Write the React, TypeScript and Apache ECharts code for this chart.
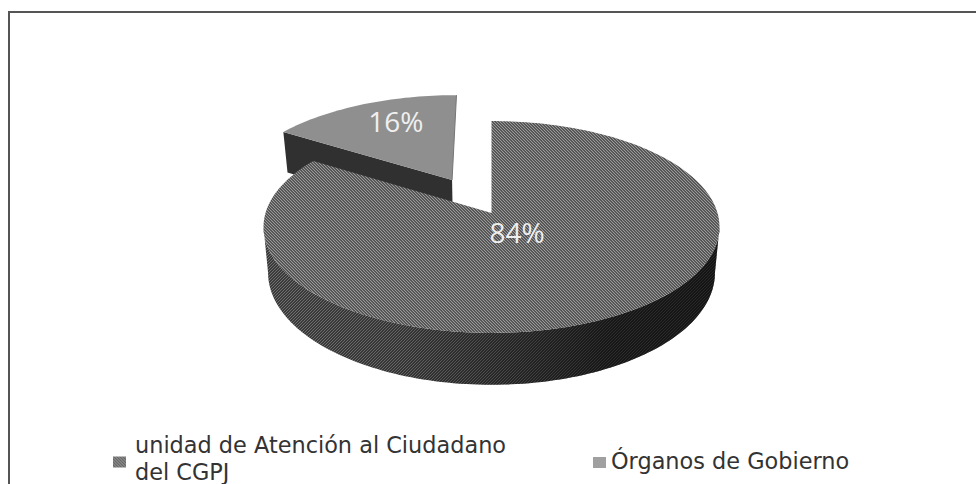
import React, { useEffect, useRef } from "react";
import * as echarts from "echarts";

const categories = ["unidad de Atención al Ciudadano\ndel CGPJ", "Órganos de Gobierno"];
const shareValues = [84, 16];
const shareLabels = ["84%", "16%"];

// Perspective of the tilted disc
const CX = 491.5, CY = 213, A = 226, B = 104.1, K = 0.132, DEPTH = 45, BOTTOM_SHRINK = 0.98;
const EXPLODE = 0.378;

function project(u: number, v: number, down = 0): [number, number] {
  const w = 1 + K * v;
  const s = down ? BOTTOM_SHRINK : 1;
  return [CX + (s * A * u) / w, CY - (B * v) / w + (down * DEPTH) / w];
}

function makePattern(size: number, colours: string[], backslash: boolean) {
  const c = document.createElement("canvas");
  c.width = size;
  c.height = size;
  const g = c.getContext("2d")!;
  for (let y = 0; y < size; y++)
    for (let x = 0; x < size; x++) {
      const k = backslash ? x - y + size : x + y;
      g.fillStyle = colours[k % colours.length];
      g.fillRect(x, y, 1, 1);
    }
  return { image: c, repeat: "repeat", imageWidth: size, imageHeight: size } as any;
}

function sliceRange(index: number) {
  const total = shareValues.reduce((a, b) => a + b, 0);
  const before = shareValues.slice(0, index).reduce((a, b) => a + b, 0);
  return [(before / total) * 2 * Math.PI, ((before + shareValues[index]) / total) * 2 * Math.PI];
}

function arc(a0: number, a1: number, ou: number, ov: number, down = 0) {
  const pts: [number, number][] = [];
  const n = Math.max(2, Math.ceil((a1 - a0) * 40));
  for (let i = 0; i <= n; i++) {
    const t = a0 + ((a1 - a0) * i) / n;
    pts.push(project(ou + Math.sin(t), ov + Math.cos(t), down));
  }
  return pts;
}

// a rect of 13x11 set lower inside a taller invisible box, so it sits below the text's centre
const loweredRect = (drop: number) => `path://M0 0M0 ${2 * drop}H13V${2 * drop + 11}H0Z`;

export default function App() {
  const ref = useRef<HTMLDivElement>(null);
  useEffect(() => {
    const chart = echarts.init(ref.current!, null, { renderer: "svg" });
    const mainTop = makePattern(3, ["#9a9a9a", "#606060", "#505050"], true);
    const mainSide = makePattern(3, ["#707070", "#3e3e3e", "#383838"], false);
    const legendMain = makePattern(3, ["#9c9c9c", "#707070", "#606060"], true);
    const sideShade = {
      type: "linear", x: 0, y: 0, x2: 1, y2: 0,
      colorStops: [
        { offset: 0.05, color: "rgba(0,0,0,0)" },
        { offset: 0.3, color: "rgba(0,0,0,0.1)" },
        { offset: 0.75, color: "rgba(0,0,0,0.6)" },
        { offset: 1, color: "rgba(0,0,0,0.65)" },
      ],
    };
    const smallTop = "#8f8f8f";
    const smallSide = "#303030";
    const font = '"Open Sans", sans-serif';
    const labelStyle = (text: string) => ({
      text, fill: "#efefef", font: `28px ${font}`, align: "center", verticalAlign: "middle",
    });

    const renderMain = () => {
      const [a0, a1] = sliceRange(0);
      const top = arc(a0, a1, 0, 0);
      const apex = project(0, 0);
      // the silhouette's widest points on the projected disc
      const front0 = Math.acos(-K), front1 = 2 * Math.PI - Math.acos(-K);
      const side = arc(front0, front1, 0, 0).concat(arc(front0, front1, 0, 0, 1).reverse());
      const lp = project(0.11, -0.18);
      return {
        type: "group",
        children: [
          { type: "polygon", shape: { points: side }, style: { fill: mainSide } },
          { type: "polygon", shape: { points: side }, style: { fill: sideShade } },
          { type: "polygon", shape: { points: [apex, ...top] }, style: { fill: mainTop } },
          { type: "text", x: lp[0], y: lp[1], style: labelStyle(shareLabels[0]) },
        ],
      };
    };

    const renderSmall = () => {
      const [a0, a1] = sliceRange(1);
      const mid = (a0 + a1) / 2;
      const ou = Math.sin(mid) * EXPLODE, ov = Math.cos(mid) * EXPLODE;
      const top = arc(a0, a1, ou, ov);
      const apex = project(ou, ov);
      const apexLow = project(ou, ov, 1);
      const edge = project(ou + Math.sin(a0), ov + Math.cos(a0));
      const edgeLow = project(ou + Math.sin(a0), ov + Math.cos(a0), 1);
      const far = top[top.length - 1];
      const lp = project(ou - 0.297, ov + 0.669);
      return {
        type: "group",
        children: [
          { type: "polygon", shape: { points: [apex, edge, edgeLow, apexLow] }, style: { fill: smallSide } },
          { type: "polygon", shape: { points: [apex, ...top] }, style: { fill: smallTop } },
          { type: "line", shape: { x1: apex[0], y1: apex[1], x2: far[0], y2: far[1] }, style: { stroke: "#767676", lineWidth: 1 } },
          { type: "text", x: lp[0], y: lp[1], style: labelStyle(shareLabels[1]) },
        ],
      };
    };

    const textBase = { fontFamily: '"DejaVu Sans"', fontSize: 22.4, color: "#333333", lineHeight: 27 };
    const legendBase = {
      orient: "horizontal",
      selectedMode: false,
      itemWidth: 13,
      itemGap: 0,
      padding: 5,
    };

    chart.setOption({
      animation: false,
      backgroundColor: "#ffffff",
      legend: [
        { ...legendBase, data: [{ name: categories[0], icon: loweredRect(4) }], itemHeight: 19, left: 108, top: 426, itemStyle: { color: legendMain }, textStyle: { ...textBase, padding: [0, 0, 0, 4] } },
        { ...legendBase, data: [{ name: categories[1], icon: loweredRect(2) }], itemHeight: 15, left: 588, top: 442, itemStyle: { color: "#a0a0a0" }, textStyle: { ...textBase, padding: 0 } },
      ],
      graphic: [
        { type: "rect", shape: { x: 9, y: 12, width: 1000, height: 500 }, style: { fill: "none", stroke: "#555555", lineWidth: 2 }, silent: true, z: -1 },
      ],
      series: [
        { type: "custom", name: categories[1], coordinateSystem: "none", data: [shareValues[1]], renderItem: renderSmall, itemStyle: { color: smallTop }, silent: true },
        { type: "custom", name: categories[0], coordinateSystem: "none", data: [shareValues[0]], renderItem: renderMain, itemStyle: { color: mainTop }, silent: true },
      ],
    });
    return () => chart.dispose();
  }, []);
  return <div ref={ref} style={{ position: "fixed", left: 0, top: 0, width: 976, height: 484 }} />;
}
